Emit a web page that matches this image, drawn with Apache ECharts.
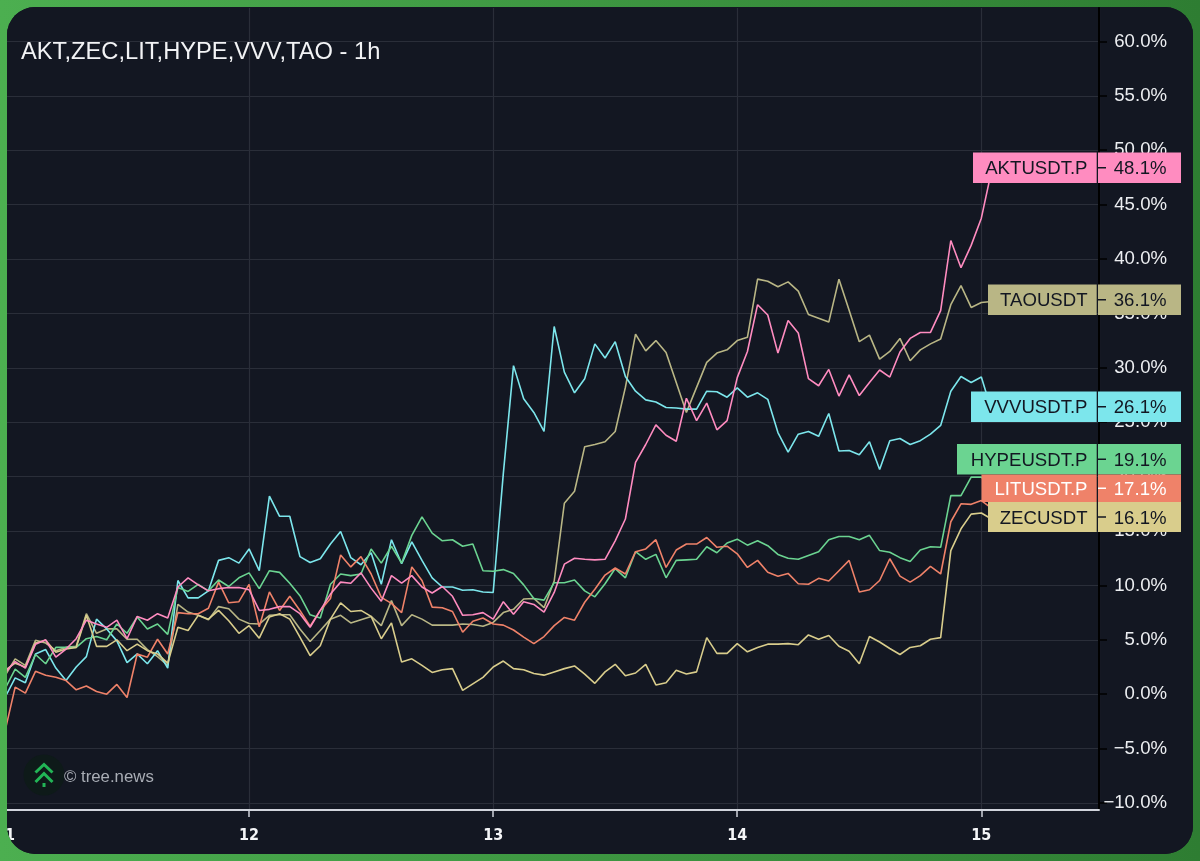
<!DOCTYPE html>
<html>
<head>
<meta charset="utf-8">
<script src="https://cdn.jsdelivr.net/npm/echarts@6/dist/echarts.min.js"></script>
<style>
html,body{margin:0;padding:0;width:1200px;height:861px;overflow:hidden}
body{background:linear-gradient(90deg,#4caf50 0%,#2e7d32 100%)}
#card{position:absolute;left:7px;top:7px;width:1186px;height:847px;border-radius:28px;overflow:hidden;background:#131722}
#chart{width:1186px;height:847px}
</style>
</head>
<body>
<div id="card"><div id="chart"></div></div>
<script>
const titleText = "AKT,ZEC,LIT,HYPE,VVV,TAO - 1h";
const dayLabels = ["11","12","13","14","15"];

const AKT = [2.0,3.0,2.4,4.6,5.0,3.4,4.15,5.1,6.8,6.45,6.15,6.8,5.1,7.15,6.8,7.4,7.0,9.85,10.7,10.05,9.5,9.7,9.8,9.8,9.6,
7.7,7.8,8.05,8.05,7.4,6.15,7.7,9.2,10.3,10.2,11.15,9.75,8.55,10.9,10.2,10.9,9.85,9.3,9.9,9.0,7.25,7.3,7.5,6.9,
8.5,7.35,8.5,8.25,7.55,9.35,11.95,12.5,12.4,12.35,12.4,
14.1,16.1,21.3,22.95,24.75,23.8,23.25,27.2,25.15,26.75,24.3,25.15,
29.1,31.5,35.8,34.85,31.35,34.35,33.2,29.0,28.35,29.85,27.4,29.35,27.45,28.65,29.8,29.15,31.45,32.7,33.25,33.25,35.25,41.7,39.2,41.25,43.75,48.1];

const TAO = [1.7,3.25,2.65,4.95,4.7,4.0,4.3,4.4,7.4,5.6,6.0,6.0,5.05,5.05,4.1,3.45,2.65,8.25,7.55,7.25,6.85,8.05,7.85,6.9,6.5,
6.45,7.25,7.3,7.3,6.0,4.85,5.85,6.9,7.25,6.55,6.85,7.15,6.3,8.6,6.3,7.3,6.9,6.35,6.35,6.35,6.45,6.4,6.25,6.6,
7.5,7.8,8.75,8.8,7.95,10.4,17.55,18.65,22.75,22.95,23.2,
24.15,28.2,33.1,31.55,32.5,31.4,28.65,25.9,28.2,30.5,31.35,31.65,
32.5,32.8,38.15,37.95,37.45,37.9,37.05,34.9,34.55,34.2,38.15,35.3,32.4,33.0,30.8,31.5,32.7,30.65,31.65,32.2,32.65,35.8,37.55,35.55,36.0,36.1];

const VVV = [-0.3,1.5,1.05,3.7,4.1,2.4,1.25,2.5,3.45,6.9,6.0,4.9,2.9,3.7,2.8,4.0,2.4,10.45,8.85,8.85,9.5,12.3,12.55,12.05,13.35,
11.35,18.2,16.35,16.35,12.65,12.1,12.45,13.8,14.95,12.55,11.9,13.0,10.1,14.2,12.0,14.0,12.3,10.7,9.85,9.85,9.55,9.6,9.4,9.35,
20.3,30.2,27.15,25.9,24.15,33.8,29.6,27.7,29.0,32.2,30.9,32.4,29.2,27.85,27.05,26.85,26.35,26.3,26.2,26.2,27.85,27.8,27.3,
28.15,27.3,27.7,27.1,24.05,22.25,23.9,24.15,23.7,25.8,22.35,22.4,22.0,23.2,20.65,23.3,23.5,22.95,23.3,23.9,24.7,27.85,29.2,28.65,29.15,26.1];

const HYPE = [0.5,2.3,1.55,3.65,2.8,4.3,4.3,4.3,5.1,5.3,5.0,6.45,5.6,7.1,6.0,6.45,5.5,9.8,9.45,10.1,9.5,10.5,9.9,10.7,11.15,
9.7,11.35,11.2,10.2,9.05,7.3,7.0,10.1,11.05,10.9,11.05,13.35,12.05,13.6,12.05,14.6,16.3,14.8,14.1,14.2,13.6,13.8,11.35,11.3,
11.45,11.1,10.05,8.8,8.65,10.25,10.25,10.5,9.5,8.95,10.15,11.55,10.7,13.1,12.4,12.85,10.7,12.3,12.35,12.4,13.55,13.0,13.9,
14.25,13.7,14.1,13.65,12.85,12.5,12.4,12.75,13.1,14.2,14.5,14.5,14.2,14.6,13.2,13.05,12.55,12.2,13.25,13.55,13.5,18.25,18.25,19.95,19.95,19.1];

const LIT = [-3.4,0.65,0.1,2.1,1.75,1.55,1.25,0.4,0.75,0.25,0,0.9,-0.3,3.7,3.4,5.05,3.7,7.5,7.4,7.4,7.9,10.3,8.4,8.5,10.1,
6.2,9.4,7.7,9.0,7.7,6.25,7.7,8.8,12.8,11.7,12.65,11.05,8.9,8.35,7.5,11.7,10.45,8.0,7.95,7.6,5.7,6.7,7.0,6.45,
6.35,5.9,5.25,4.65,5.3,6.3,7.05,6.8,8.45,9.65,10.95,11.6,11.05,13.1,13.35,14.2,11.65,13.25,13.8,13.8,14.4,13.5,13.6,
12.9,11.65,12.3,11.2,10.85,11.1,10.15,10.1,10.65,10.4,11.35,12.3,9.4,9.6,10.45,12.45,10.85,10.3,10.9,11.75,11.05,15.85,17.5,17.45,17.8,17.1];

const ZEC = [2.2,2.85,2.5,4.7,4.95,3.85,4.15,4.3,7.25,4.4,4.4,5.0,4.0,4.6,4.0,3.7,2.85,6.15,5.85,7.25,6.9,7.7,6.75,5.6,6.3,
5.15,7.1,7.4,6.9,5.25,3.55,4.45,6.9,8.4,7.6,7.7,7.15,5.1,6.55,2.95,3.25,2.65,2.0,2.25,2.35,0.35,0.95,1.55,2.5,
3.05,2.35,2.25,1.9,1.75,2.05,2.35,2.6,1.85,1.0,2.05,2.75,1.7,1.95,2.75,0.85,1.05,2.2,1.85,2.05,5.2,3.75,3.75,
4.65,3.9,4.3,4.6,4.6,4.65,4.55,5.45,5.05,5.4,4.4,3.95,2.8,5.3,4.8,4.2,3.65,4.3,4.45,5.05,5.2,13.2,15.2,16.55,16.65,16.1];

const seriesNames = ["TAOUSDT","VVVUSDT.P","HYPEUSDT.P","LITUSDT.P","ZECUSDT","AKTUSDT.P"];
const seriesValues = [TAO,VVV,HYPE,LIT,ZEC,AKT];
const seriesColors = ["#b9b685","#7ce6ec","#6bd491","#ef8269","#d9cd8c","#ff8cc0"];
const legendText = ["#131722","#131722","#131722","#ffffff","#131722","#131722"];

/* page-pixel boxes of the right-hand tags, in the reference's stacking order */
const tagLayout = {
  "AKTUSDT.P": {left:973, top:152.5, h:30.5},
  "TAOUSDT":   {left:988, top:284.5, h:30.5},
  "VVVUSDT.P": {left:971, top:391.5, h:30.5},
  "HYPEUSDT.P":{left:957, top:444, h:30.5},
  "LITUSDT.P": {left:981.5, top:474.5, h:27.5},
  "ZECUSDT":   {left:988, top:502, h:30}
};

const OX = 7, OY = 7; // card offset in the page
const FONT = '"Liberation Sans", Arial, sans-serif';
const GRID_L = 5 - OX, GRID_R = 1186 - (1099 - OX);
const X_MAX = 107.57;

const chart = echarts.init(document.getElementById('chart'), null, {renderer:'canvas'});

const gfx = [];
gfx.push({type:'text', left:21-OX, top:40-OY, z:50, style:{text:titleText, fill:'#f2f3f5', font:'23.7px '+FONT}});
// watermark
gfx.push({type:'circle', shape:{cx:44-OX, cy:775-OY, r:20.5}, style:{fill:'#0e1a19'}, z:20});
[[35.5,772.5,44,764.5,52.5,772.5],[35.5,782,44,773.5,52.5,782]].forEach(p=>{
  gfx.push({type:'polyline', shape:{points:[[p[0]-OX,p[1]-OY],[p[2]-OX,p[3]-OY],[p[4]-OX,p[5]-OY]]}, style:{stroke:'#22b556', lineWidth:3, fill:null}, z:21});
});
gfx.push({type:'line', shape:{x1:44-OX,y1:783-OY,x2:44-OX,y2:787-OY}, style:{stroke:'#22b556', lineWidth:3}, z:21});
gfx.push({type:'text', left:64-OX, top:769-OY, z:21, style:{text:'\u00a9 tree.news', fill:'#a9adb5', font:'16.8px '+FONT}});
// tags, bottom-most first
["AKTUSDT.P","TAOUSDT","VVVUSDT.P","HYPEUSDT.P","LITUSDT.P","ZECUSDT"].forEach((name,k)=>{
  const i = seriesNames.indexOf(name), L = tagLayout[name], z = 30+k*2;
  const v = seriesValues[i][seriesValues[i].length-1].toFixed(1)+'%';
  const c = seriesColors[i], tc = legendText[i], cy = L.top+L.h/2-OY;
  gfx.push({type:'rect', shape:{x:L.left-OX,y:L.top-OY,width:1096.7-L.left,height:L.h}, style:{fill:c}, z});
  gfx.push({type:'rect', shape:{x:1098-OX,y:L.top-OY,width:83,height:L.h}, style:{fill:c}, z});
  gfx.push({type:'line', shape:{x1:1098-OX,y1:cy,x2:1106-OX,y2:cy}, style:{stroke:tc,lineWidth:1.5}, z:z+1});
  gfx.push({type:'text', z:z+1, x:1087.5-OX, y:cy+1.5, style:{text:name, fill:tc, font:'18.6px '+FONT, textAlign:'right', textVerticalAlign:'middle'}});
  gfx.push({type:'text', z:z+1, x:1166.5-OX, y:cy+1.5, style:{text:v, fill:tc, font:'18.6px '+FONT, textAlign:'right', textVerticalAlign:'middle'}});
});

chart.setOption({
  animation:false,
  backgroundColor:'#131722',
  grid:[
    {left:GRID_L, right:GRID_R, top:8-OY, height:802, containLabel:false, outerBoundsMode:'none'},
    {left:GRID_L, right:GRID_R, top:-13-OY, height:816, containLabel:false, outerBoundsMode:'none'}
  ],
  xAxis:[
    {type:'value', gridIndex:0, min:0, max:X_MAX, interval:24,
     axisLine:{show:true,onZero:false,lineStyle:{color:'#d1d4dc',width:2}},
     axisTick:{show:true,length:7,lineStyle:{color:'#d1d4dc',width:1.5}},
     splitLine:{show:true,lineStyle:{color:'#2a2e39',width:1.2}},
     axisLabel:{margin:18,color:'#f4f5f7',fontFamily:'"DejaVu Sans Condensed","DejaVu Sans"',fontWeight:'bold',fontSize:16,hideOverlap:false,showMaxLabel:false,showMinLabel:true,
       formatter:v=>dayLabels[Math.round(v/24)]||''}},
    {type:'value', gridIndex:1, min:0, max:X_MAX, show:false, interval:24, splitLine:{show:false}}
  ],
  yAxis:[
    {type:'value', gridIndex:0, position:'right', min:0, max:1, interval:1,
     axisLine:{show:true,onZero:false,lineStyle:{color:'#000000',width:2}}, axisTick:{show:false}, axisLabel:{show:false}, splitLine:{show:false}},
    {type:'value', gridIndex:1, position:'right', min:-10, max:65, interval:5,
     axisLine:{show:false,onZero:false}, axisTick:{show:true,length:8,lineStyle:{color:'#000000',width:1.5}},
     splitLine:{show:true,lineStyle:{color:'#2a2e39',width:1.2}},
     axisLabel:{margin:68,align:'right',color:'#eceef1',fontFamily:FONT,fontSize:18.6,padding:[3,0,0,0],
       formatter:v=>(v<0?'\u2212':'')+Math.abs(v).toFixed(1)+'%'}}
  ],
  series:seriesNames.map((n,i)=>({
    name:n,type:'line',xAxisIndex:1,yAxisIndex:1,showSymbol:false,symbol:'none',smooth:false,
    lineStyle:{color:seriesColors[i],width:1.6},
    z:3+i,
    data:seriesValues[i].map((v,h)=>[h,v])
  })),
  graphic:gfx
});
</script>
</body>
</html>
